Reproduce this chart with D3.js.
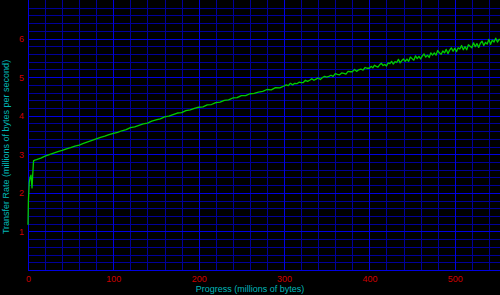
<!DOCTYPE html>
<html>
<head>
<meta charset="utf-8">
<script src="https://cdn.jsdelivr.net/npm/d3@7"></script>
<style>
  html, body { margin: 0; padding: 0; background: #000; }
  svg { display: block; }
  text { font-family: "Liberation Sans", Arial, sans-serif; }
</style>
</head>
<body>
<svg id="chart" width="500" height="295"></svg>
<script>
// ---- data ----
const xTickValues = [0, 100, 200, 300, 400, 500];
const yTickValues = [1, 2, 3, 4, 5, 6];
const xTitle = "Progress (millions of bytes)";
const yTitle = "Transfer Rate (millions of bytes per second)";

const progress = [
  0, 0.5, 1.5, 2.5, 3.5, 4.7, 5.5, 6.5, 8,
  10, 15, 20, 25, 30, 35, 40, 45, 50, 55, 60, 65, 70, 75, 80, 85, 90, 95,
  100, 105, 110, 115, 120, 125, 130, 135, 140, 145, 150, 155, 160, 165, 170, 175, 180, 185, 190, 195,
  200, 205, 210, 215, 220, 225, 230, 235, 240, 245, 250, 255, 260, 265, 270, 275, 280, 285, 290, 295,
  300, 302.5, 305, 307.5, 310, 312.5, 315, 317.5, 320, 322.5, 325, 327.5, 330, 332.5, 335, 337.5, 340, 342.5, 345, 347.5,
  350, 352.5, 355, 357.5, 360, 362.5, 365, 367.5, 370, 372.5, 375, 377.5, 380, 382.5, 385, 387.5, 390, 392.5, 395, 397.5,
  400, 402, 404, 406, 408, 410, 412, 414, 416, 418, 420, 422, 424, 426, 428, 430, 432, 434, 436, 438,
  440, 442, 444, 446, 448, 450, 452, 454, 456, 458, 460, 462, 464, 466, 468, 470, 472, 474, 476, 478,
  480, 482, 484, 486, 488, 490, 492, 494, 496, 498, 500, 502, 504, 506, 508, 510, 512, 514, 516, 518,
  520, 522, 524, 526, 528, 530, 532, 534, 536, 538, 540, 542, 544, 546, 548, 550, 552, 553
];
const rate = [
  1.17, 1.80, 2.28, 2.40, 2.46, 2.13, 2.46, 2.83, 2.85,
  2.86, 2.90, 2.95, 2.99, 3.03, 3.07, 3.10, 3.14, 3.17, 3.21, 3.24, 3.28, 3.32, 3.36, 3.40, 3.44, 3.47, 3.51,
  3.54, 3.57, 3.61, 3.64, 3.69, 3.71, 3.75, 3.79, 3.81, 3.86, 3.89, 3.92, 3.97, 3.99, 4.03, 4.07, 4.08, 4.13, 4.15, 4.19,
  4.22, 4.23, 4.28, 4.29, 4.34, 4.35, 4.40, 4.41, 4.46, 4.47, 4.52, 4.52, 4.57, 4.58, 4.61, 4.63, 4.68, 4.67, 4.73, 4.72,
  4.77, 4.80, 4.78, 4.84, 4.80, 4.84, 4.83, 4.87, 4.86, 4.86, 4.92, 4.89, 4.92, 4.96, 4.92, 4.95, 4.98, 4.94, 4.99, 5.02,
  5.00, 5.02, 5.05, 5.02, 5.09, 5.07, 5.06, 5.11, 5.10, 5.08, 5.15, 5.14, 5.14, 5.20, 5.15, 5.19, 5.21, 5.18, 5.25, 5.23,
  5.23, 5.28, 5.24, 5.31, 5.28, 5.26, 5.32, 5.36, 5.30, 5.33, 5.29, 5.37, 5.35, 5.41, 5.34, 5.40, 5.38, 5.46, 5.37, 5.43,
  5.47, 5.41, 5.47, 5.41, 5.52, 5.48, 5.44, 5.55, 5.48, 5.54, 5.47, 5.55, 5.60, 5.52, 5.57, 5.51, 5.63, 5.57, 5.63, 5.57,
  5.69, 5.63, 5.59, 5.68, 5.63, 5.72, 5.61, 5.70, 5.76, 5.67, 5.75, 5.66, 5.76, 5.73, 5.82, 5.71, 5.79, 5.71, 5.84, 5.80,
  5.76, 5.89, 5.79, 5.87, 5.77, 5.88, 5.93, 5.82, 5.90, 5.86, 5.98, 5.85, 5.96, 5.91, 6.01, 5.91, 5.98, 5.96
];

// ---- chart ----
const svg = d3.select("#chart");
const x = d3.scaleLinear().domain([0, 553]).range([28, 500]);
const y = d3.scaleLinear().domain([0, 7]).range([270, 0]);

const minorColor = "#000099";
const majorColor = "#0000e0";
const px = v => Math.round(v) + 0.5;

const g = svg.append("g");
// minor grid
g.selectAll("line.vmin")
  .data(d3.range(20, 553, 20).filter(v => v % 100 !== 0))
  .join("line").attr("class", "vmin")
  .attr("x1", d => px(x(d))).attr("x2", d => px(x(d)))
  .attr("y1", 0).attr("y2", 270)
  .attr("stroke", minorColor).attr("stroke-width", 1);
g.selectAll("line.hmin")
  .data(d3.range(1, 35).filter(i => i % 5 !== 0).map(i => i / 5))
  .join("line").attr("class", "hmin")
  .attr("y1", d => px(y(d))).attr("y2", d => px(y(d)))
  .attr("x1", 28).attr("x2", 500)
  .attr("stroke", minorColor).attr("stroke-width", 1);
// major grid
g.selectAll("line.vmaj")
  .data(xTickValues.filter(v => v > 0))
  .join("line").attr("class", "vmaj")
  .attr("x1", d => px(x(d))).attr("x2", d => px(x(d)))
  .attr("y1", 0).attr("y2", 270)
  .attr("stroke", majorColor).attr("stroke-width", 1);
g.selectAll("line.hmaj")
  .data(yTickValues)
  .join("line").attr("class", "hmaj")
  .attr("y1", d => px(y(d))).attr("y2", d => px(y(d)))
  .attr("x1", 28).attr("x2", 500)
  .attr("stroke", majorColor).attr("stroke-width", 1);

// axis lines
svg.append("line").attr("x1", 28.5).attr("x2", 28.5).attr("y1", 0).attr("y2", 270.5)
  .attr("stroke", majorColor).attr("stroke-width", 1);
svg.append("line").attr("x1", 28).attr("x2", 500).attr("y1", 270.5).attr("y2", 270.5)
  .attr("stroke", majorColor).attr("stroke-width", 1);

// data line
const pts = progress.map((p, i) => [p, rate[i]]);
svg.append("path")
  .datum(pts)
  .attr("fill", "none")
  .attr("stroke", "#00cc00")
  .attr("stroke-width", 1.3)
  .attr("stroke-linejoin", "round")
  .attr("d", d3.line().x(d => x(d[0])).y(d => y(d[1])));

// axes labels
const xAxis = d3.axisBottom(x).tickValues(xTickValues).tickSize(0).tickPadding(0).tickFormat(d3.format("d"));
const xa = svg.append("g").attr("transform", "translate(0,276)").call(xAxis);
xa.select(".domain").remove();
xa.selectAll("text").attr("fill", "#cc0000").attr("font-size", 9).attr("dy", "0.71em")
  .style("font-family", "Liberation Sans, Arial, sans-serif");

const yAxis = d3.axisLeft(y).tickValues(yTickValues).tickSize(0).tickPadding(0).tickFormat(d3.format("d"));
const ya = svg.append("g").attr("transform", "translate(24,0)").call(yAxis);
ya.select(".domain").remove();
ya.selectAll("text").attr("fill", "#cc0000").attr("font-size", 9)
  .style("font-family", "Liberation Sans, Arial, sans-serif");

// titles
svg.append("text")
  .attr("x", 250).attr("y", 292)
  .attr("text-anchor", "middle")
  .attr("fill", "#00b8b8").attr("font-size", 9)
  .text(xTitle);
svg.append("text")
  .attr("transform", "translate(9,147) rotate(-90)")
  .attr("text-anchor", "middle")
  .attr("fill", "#00b8b8").attr("font-size", 9)
  .text(yTitle);
</script>
</body>
</html>
